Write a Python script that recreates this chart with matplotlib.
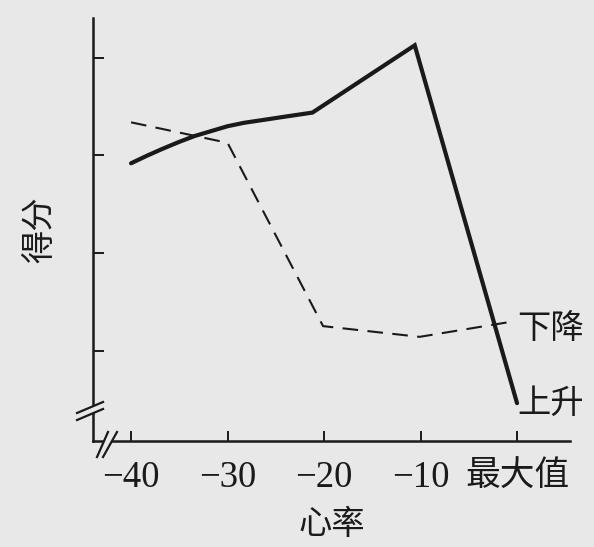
import matplotlib.pyplot as plt
from matplotlib.patches import Polygon

BG = '#e8e8e8'
INK = '#1a1a1a'

# x positions of the ticks and their labels
x_ticks = [-40, -30, -20, -10, 0]
x_ticklabels = ['\u221240', '\u221230', '\u221220', '\u221210', '最大值']
y_ticks = [1, 2, 3, 4]

# 上升 (solid, curved first part)
x_rise = [-40, -38.3, -36.7, -35.0, -33.4, -31.7, -30, -28.3, -26.6, -24.6, -21.2, -10.6, 0]
rise = [2.92, 3.00, 3.07, 3.14, 3.20, 3.25, 3.30, 3.335, 3.36, 3.39, 3.44, 4.13, 0.46]

# 下降 (dashed)
x_fall = [-40, -30, -20.1, -10.1, -0.9]
fall = [3.34, 3.13, 1.25, 1.14, 1.29]

series_labels = ['上升', '下降']
x_title = '心率'
y_title = '得分'

serif_cjk = ['Liberation Serif', 'Noto Sans CJK SC']
cjk = ['Noto Sans CJK SC', 'DejaVu Sans']

fig = plt.figure(figsize=(5.94, 5.47), dpi=100, facecolor=BG)
ax = fig.add_axes([0.1566, 0.1938, 0.8030, 0.7733], facecolor=BG)

ax.plot(x_rise, rise, color=INK, lw=3.0, solid_joinstyle='miter',
        solid_capstyle='round')
ax.plot(x_fall, fall, color=INK, lw=1.5, linestyle=(0, (7.5, 4.5)))

ax.set_xlim(-43.94, 5.49)
ax.set_ylim(0.072, 4.41)

for s in ['top', 'right']:
    ax.spines[s].set_visible(False)
for s in ['left', 'bottom']:
    ax.spines[s].set_linewidth(1.8)
    ax.spines[s].set_color(INK)

ax.set_xticks(x_ticks)
ax.set_xticklabels(x_ticklabels)
for t in ax.get_xticklabels():
    t.set_family(serif_cjk)
    t.set_fontsize(25 if t.get_text() == x_ticklabels[-1] else 26.5)
ax.set_yticks(y_ticks)
ax.set_yticklabels([])
ax.tick_params(axis='x', direction='in', length=7.5, width=1.4, color=INK,
               pad=14, labelcolor=INK)
ax.tick_params(axis='y', direction='in', length=8, width=1.4, color=INK)

ax.set_xlabel(x_title, family=cjk, fontsize=24, color=INK, labelpad=9)
ax.set_ylabel(y_title, family=cjk, fontsize=24, color=INK, labelpad=22)

# end labels
ax.text(0.05, rise[-1], series_labels[0], family=cjk, fontsize=24,
        color=INK, ha='left', va='center')
ax.text(0.05, 1.23, series_labels[1], family=cjk, fontsize=24,
        color=INK, ha='left', va='center')

# axis break marks (axes fraction coordinates)
tr = ax.transAxes
ybrk = [(-0.0335, 0.0662), (0.021, 0.0922), (0.021, 0.0757), (-0.0335, 0.0496)]
ax.add_patch(Polygon(ybrk, closed=True, facecolor=BG, edgecolor='none',
                     transform=tr, clip_on=False, zorder=5))
ax.plot([ybrk[0][0], ybrk[1][0]], [ybrk[0][1], ybrk[1][1]], color=INK,
        lw=1.6, transform=tr, clip_on=False, zorder=6)
ax.plot([ybrk[3][0], ybrk[2][0]], [ybrk[3][1], ybrk[2][1]], color=INK,
        lw=1.6, transform=tr, clip_on=False, zorder=6)

xbrk = [(0.0084, -0.0378), (0.0314, 0.0213), (0.0503, 0.0213), (0.021, -0.0378)]
ax.add_patch(Polygon(xbrk, closed=True, facecolor=BG, edgecolor='none',
                     transform=tr, clip_on=False, zorder=5))
ax.plot([xbrk[0][0], xbrk[1][0]], [xbrk[0][1], xbrk[1][1]], color=INK,
        lw=1.6, transform=tr, clip_on=False, zorder=6)
ax.plot([xbrk[3][0], xbrk[2][0]], [xbrk[3][1], xbrk[2][1]], color=INK,
        lw=1.6, transform=tr, clip_on=False, zorder=6)

fig.savefig('out.png', dpi=100, facecolor=BG)
